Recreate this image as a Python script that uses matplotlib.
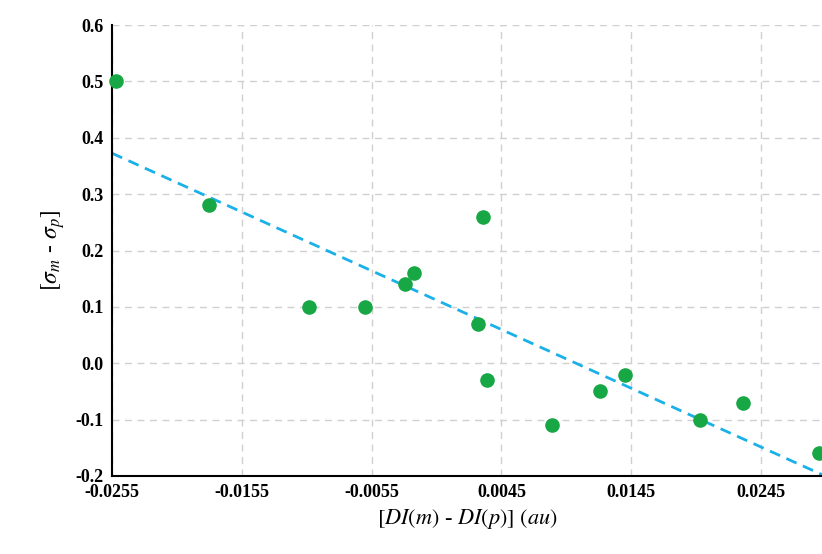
import matplotlib
matplotlib.use("Agg")
import matplotlib.pyplot as plt
import numpy as np

x = [-0.0252, -0.0180, -0.0103, -0.0060, -0.0029, -0.0022, 0.0027, 0.0031, 0.0034,
     0.0084, 0.0121, 0.0140, 0.0198, 0.0231, 0.0290]
y = [0.50, 0.28, 0.10, 0.10, 0.14, 0.16, 0.07, 0.26, -0.03, -0.11, -0.05, -0.02,
     -0.10, -0.07, -0.16]
xticks = [-0.0255, -0.0155, -0.0055, 0.0045, 0.0145, 0.0245]
yticks = [-0.2, -0.1, 0.0, 0.1, 0.2, 0.3, 0.4, 0.5, 0.6]

plt.rcParams['font.family'] = ['Liberation Serif']
plt.rcParams['mathtext.fontset'] = 'stix'
fig = plt.figure(figsize=(8.22, 5.54), dpi=100)
ax = fig.add_axes([112/822, 1-476/554, 1-112/822, (476-25)/554])
xmin, xmax = -0.0255, 0.0292
ax.set_xlim(xmin, xmax)
ax.set_ylim(-0.2, 0.6)
ax.grid(True, color='#d0d0d0', linestyle=(0, (5, 4)), linewidth=1)
ax.set_axisbelow(True)
m, b = np.polyfit(x, y, 1)
xs = np.array([xmin, xmax])
ax.plot(xs, m*xs+b, linestyle=(0, (4, 2.5)), color='#1ab0e8', linewidth=2, zorder=2)
ax.scatter(x, y, s=90, color='#18a745', zorder=3, clip_on=False)
ax.set_xticks(xticks)
ax.set_xticklabels([f"{v:.4f}" for v in xticks], fontweight='bold', fontsize=13)
ax.set_yticks(yticks)
ax.set_yticklabels([f"{v:.1f}" for v in yticks], fontweight='bold', fontsize=13)
ax.tick_params(length=0, pad=6)
for s in ['top', 'right']:
    ax.spines[s].set_visible(False)
ax.spines['left'].set_linewidth(1.5)
ax.spines['bottom'].set_linewidth(1.5)
ax.set_xlabel(r"$[DI(m)$ - $DI(p)]$ $(au)$", fontsize=16, labelpad=4)
ax.set_ylabel(r"$[\sigma_m$ - $\sigma_p]$", fontsize=17, labelpad=6)
fig.savefig("out.png", dpi=100)
